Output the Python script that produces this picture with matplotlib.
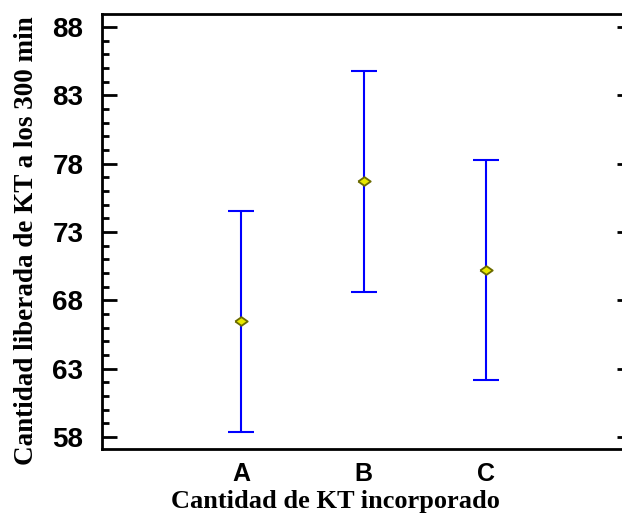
import matplotlib.pyplot as plt
from matplotlib.ticker import MultipleLocator

# Group means and interval limits
groups = ["A", "B", "C"]
means = [66.5, 76.75, 70.2]
lower = [58.4, 68.6, 62.15]
upper = [74.5, 84.75, 78.25]

fig = plt.figure(figsize=(6.22, 5.15), dpi=100)
ax = fig.add_axes([0.164, 0.128, 0.852, 0.845])

xs = range(1, len(groups) + 1)
err_lo = [m - lo for m, lo in zip(means, lower)]
err_hi = [hi - m for m, hi in zip(means, upper)]
ax.errorbar(xs, means, yerr=[err_lo, err_hi], fmt="none", ecolor="#0000ff",
            elinewidth=1.5, capsize=9.5, capthick=1.5)
# wide diamond marker for the means
diamond = [(-1, 0), (0, 0.7), (1, 0), (0, -0.7), (-1, 0)]
ax.plot(xs, means, linestyle="none", marker=diamond, markersize=9,
        markerfacecolor="#e8e800", markeredgecolor="#6b6b00", markeredgewidth=1.3)

ax.set_xlim(-0.143, 4.2)
ax.set_ylim(57.12, 88.95)
ax.set_xticks(list(xs))
ax.set_xticklabels(groups, fontfamily="Liberation Sans", fontweight="bold", fontsize=18)
ax.set_yticks([58, 63, 68, 73, 78, 83, 88])
ax.yaxis.set_minor_locator(MultipleLocator(1))
for lab in ax.get_yticklabels():
    lab.set_fontfamily("Liberation Sans")
    lab.set_fontweight("bold")
    lab.set_fontsize(20)

ax.tick_params(axis="x", length=0, pad=9)
ax.tick_params(axis="y", which="major", direction="in", length=11, width=2,
               left=True, right=True, pad=13.5)
ax.tick_params(axis="y", which="minor", direction="in", length=5, width=2,
               left=True, right=True)
for s in ax.spines.values():
    s.set_linewidth(2)

ax.set_xlabel("Cantidad de KT incorporado", fontfamily="Liberation Serif",
              fontweight="bold", fontsize=19)
ax.set_ylabel("Cantidad liberada de KT a los 300 min", fontfamily="Liberation Serif",
              fontweight="bold", fontsize=19.5)
ax.xaxis.set_label_coords(0.44, -0.095)
ax.yaxis.set_label_coords(-0.118, 0.48)

fig.savefig("out.png", dpi=100)
